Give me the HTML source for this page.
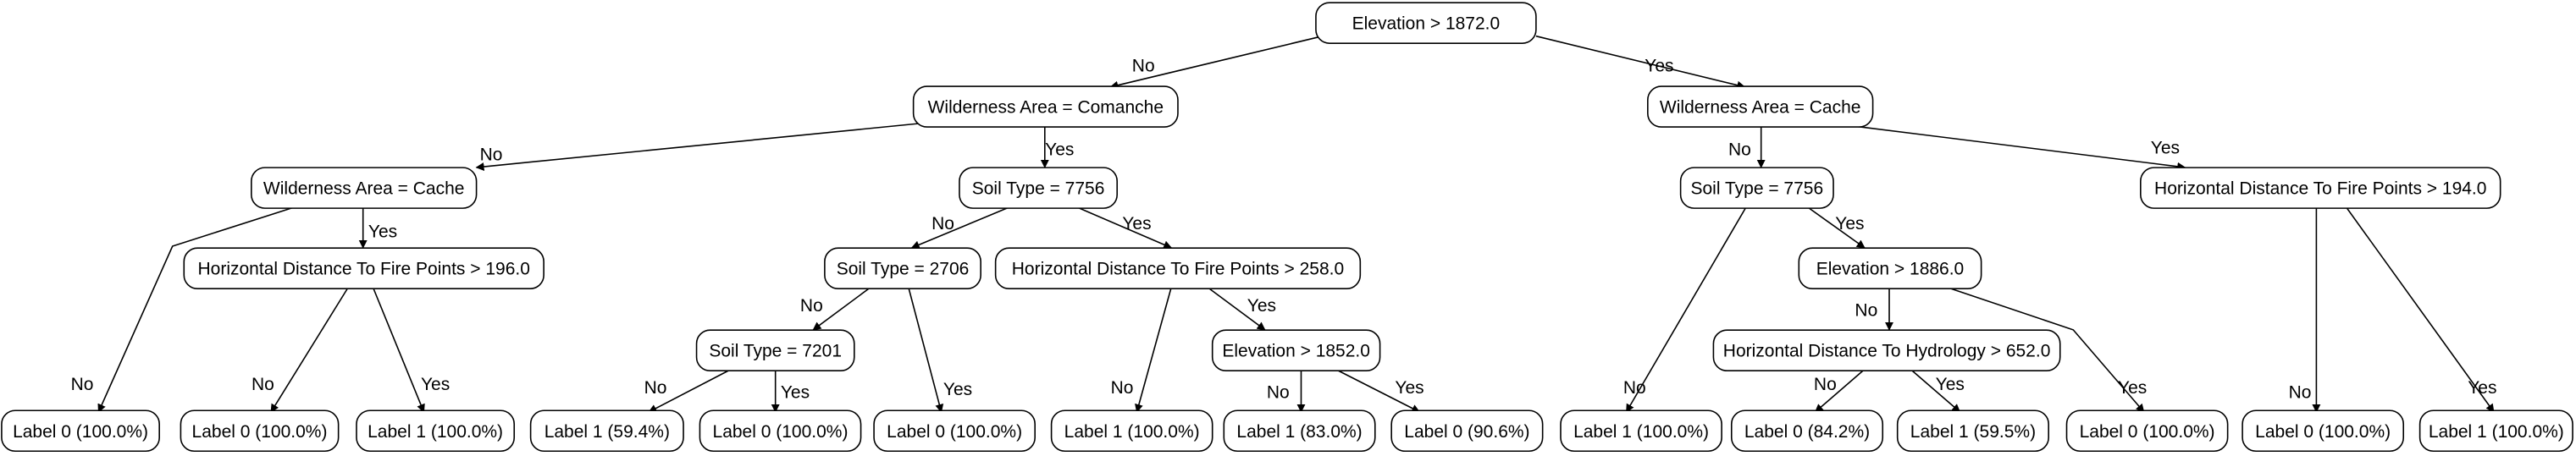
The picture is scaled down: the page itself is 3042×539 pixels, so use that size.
<!DOCTYPE html>
<html><head><meta charset="utf-8"><style>
html,body{margin:0;padding:0;background:#fff;}
svg{display:block;}
text{font-family:"Liberation Sans",sans-serif;font-size:21px;fill:#000;}
</style></head><body>
<svg id="tree" width="3042" height="539" viewBox="0 0 3042 539" xmlns="http://www.w3.org/2000/svg">
<defs><marker id="arr" markerWidth="10" markerHeight="10" refX="9" refY="5" orient="auto" markerUnits="userSpaceOnUse"><path d="M0,0 L10,5 L0,10 z" fill="#000"/></marker></defs>
</svg>
<script>
const S = 1.94;
const rowY = [14, 65, 114.5, 163.5, 213.5, 262.5];
const nodeLabels = ["Elevation > 1872.0","Wilderness Area = Comanche","Wilderness Area = Cache","Wilderness Area = Cache","Soil Type = 7756","Soil Type = 7756","Horizontal Distance To Fire Points > 194.0","Horizontal Distance To Fire Points > 196.0","Soil Type = 2706","Horizontal Distance To Fire Points > 258.0","Elevation > 1886.0","Soil Type = 7201","Elevation > 1852.0","Horizontal Distance To Hydrology > 652.0",
"Label 0 (100.0%)","Label 0 (100.0%)","Label 1 (100.0%)","Label 1 (59.4%)","Label 0 (100.0%)","Label 0 (100.0%)","Label 1 (100.0%)","Label 1 (83.0%)","Label 0 (90.6%)","Label 1 (100.0%)","Label 0 (84.2%)","Label 1 (59.5%)","Label 0 (100.0%)","Label 0 (100.0%)","Label 1 (100.0%)"];
const nodeRows = [0,1,1,2,2,2,2,3,3,3,3,4,4,4,5,5,5,5,5,5,5,5,5,5,5,5,5,5,5];
const nodeX0 = [801,556,1003,153,584,1023,1303,112,502,606,1095,424,738,1043,1,110,217,323,426,532,640,745,847,950,1054,1155,1258,1365,1473];
const nodeX1 = [935,717,1140,290,680,1116,1522,331,597,828,1206,520,840,1254,97,206,313,416,524,630,738,837,939,1048,1146,1247,1356,1463,1566];
const edges = [
 [[805,22,676,53],"No",696,40],[[935,22,1062,53],"Yes",1010,40],
 [[562,75,290,102],"No",299,94],[[636,77,636,102],"Yes",645,91],
 [[180,126,105,150,60,251],"No",50,234],[[221,126,221,151],"Yes",233,141],
 [[212,175,165,251],"No",160,234],[[227,175,258,251],"Yes",265,234],
 [[615,126,555,151],"No",574,136],[[655,126,713,151],"Yes",692,136],
 [[530,175,495,201],"No",494,186],[[553,175,573,251],"Yes",583,237],
 [[445,225,395,251],"No",399,236],[[472,225,472,251],"Yes",484,239],
 [[713,175,692,251],"No",683,236],[[735,175,770,201],"Yes",768,186],
 [[792,225,792,251],"No",778,239],[[813,225,864,251],"Yes",858,236],
 [[1072,77,1072,102],"No",1059,91],[[1130,77,1330,102],"Yes",1318,90],
 [[1063,126,990,251],"No",995,236],[[1100,126,1135,151],"Yes",1126,136],
 [[1150,175,1150,201],"No",1136,189],[[1185,175,1262,201,1305,251],"Yes",1298,236],
 [[1135,225,1105,251],"No",1111,234],[[1163,225,1193,251],"Yes",1187,234],
 [[1410,126,1410,251],"No",1400,239],[[1428,126,1518,251],"Yes",1511,236]
];
const svg = document.getElementById('tree');
const NS = "http://www.w3.org/2000/svg";
edges.forEach((e,i)=>{
  const p = document.createElementNS(NS,'polyline');
  const pts=[];for(let k=0;k<e[0].length;k+=2)pts.push((e[0][k]*S).toFixed(1)+','+(e[0][k+1]*S).toFixed(1));
  p.setAttribute('points',pts.join(' '));
  p.setAttribute('fill','none');p.setAttribute('stroke','#000');p.setAttribute('stroke-width','1.6');
  p.setAttribute('marker-end','url(#arr)');
  
  
  svg.appendChild(p);
  const t = document.createElementNS(NS,'text');
  t.setAttribute('x',e[2]*S);t.setAttribute('y',e[3]*S+7);t.setAttribute('text-anchor','middle');
  t.textContent=e[1];
  
  
  svg.appendChild(t);
});
nodeLabels.forEach((lab,i)=>{
  const g=document.createElementNS(NS,'g');
  
  
  const x0=nodeX0[i]*S,x1=nodeX1[i]*S,cy=rowY[nodeRows[i]]*S;
  const r=document.createElementNS(NS,'rect');
  r.setAttribute('x',Math.max(x0,1.5));r.setAttribute('y',cy-24);r.setAttribute('width',x1-Math.max(x0,1.5));r.setAttribute('height',48);
  r.setAttribute('rx',16);r.setAttribute('fill','#fff');r.setAttribute('stroke','#000');r.setAttribute('stroke-width','1.6');
  g.appendChild(r);
  const t=document.createElementNS(NS,'text');
  t.setAttribute('x',(x0+x1)/2);t.setAttribute('y',cy+7.5);t.setAttribute('text-anchor','middle');
  t.textContent=lab;
  g.appendChild(t);
  svg.appendChild(g);
});
</script>
</body></html>
